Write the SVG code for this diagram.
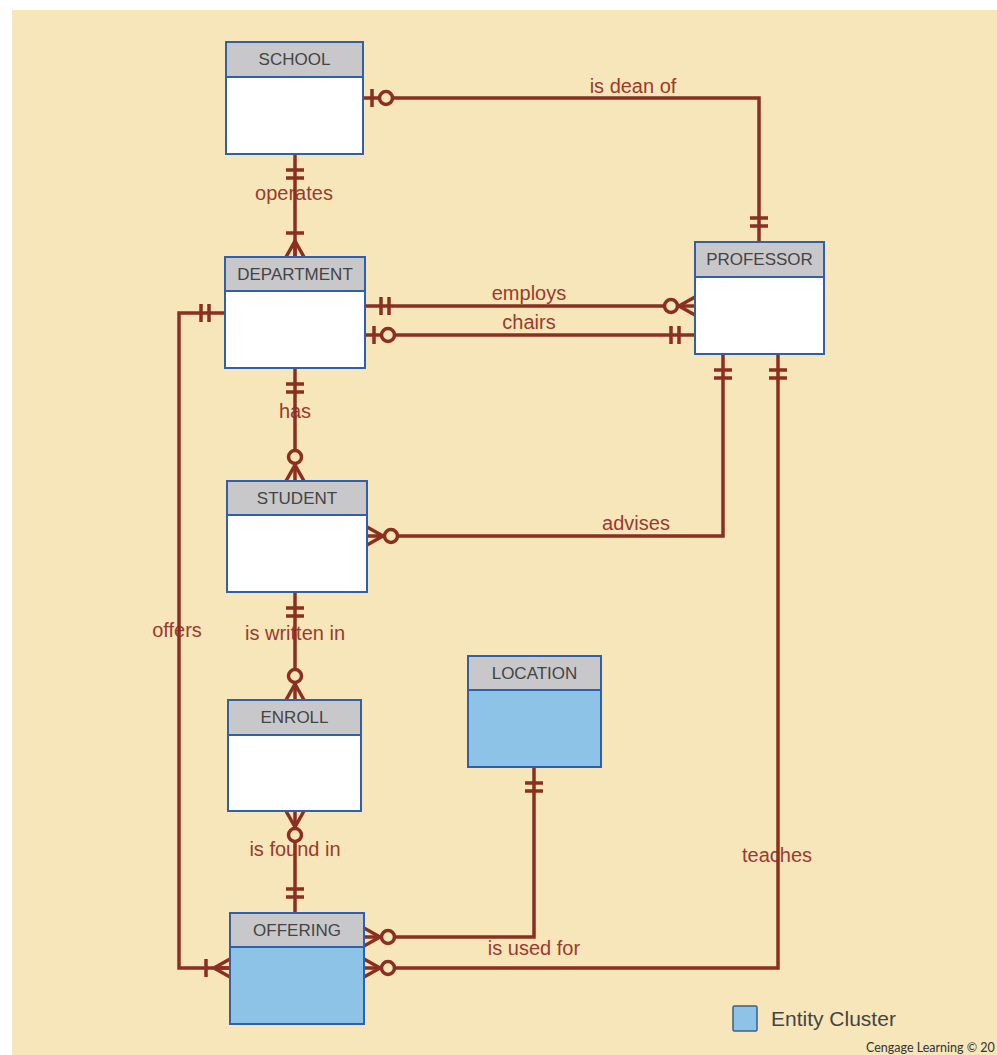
<svg xmlns="http://www.w3.org/2000/svg" xmlns:xlink="http://www.w3.org/1999/xlink" width="997" height="1055" viewBox="0 0 997 1055">
<style>
.hdr{fill:#c8c8ca;stroke:#2f60a9;stroke-width:2}
.body{fill:#ffffff;stroke:#2f60a9;stroke-width:2}
.cluster{fill:#8ec3e8;stroke:#2f60a9;stroke-width:2}
.ht{font-family:"Liberation Sans",Arial,sans-serif;font-size:17px;fill:#444;text-anchor:middle}
.lbl{font-family:"Liberation Sans",Arial,sans-serif;font-size:20px;fill:#9b3a2e;text-anchor:middle}
.ln{fill:none;stroke:#8a2f22;stroke-width:3.5}
.sym{fill:none;stroke:#8a2f22;stroke-width:3.5}
.circ{fill:#f6e6b9;stroke:#8a2f22;stroke-width:3.5}
</style>
<defs>
<g id="one"><path class="sym" d="M16,-9V9M24,-9V9"/></g>
<g id="zeroone"><path class="sym" d="M9,-9V9"/><circle class="circ" cx="23" cy="0" r="6.5"/></g>
<g id="onemany"><path class="sym" d="M0,-9L16,0L0,9M0,0H16M24,-9V9"/></g>
<g id="zeromany"><path class="sym" d="M0,-9L16,0L0,9"/><circle class="circ" cx="24" cy="0" r="6.5"/></g>
</defs>
<rect x="0" y="0" width="997" height="1055" fill="#ffffff"/>
<rect x="12" y="10" width="985" height="1045" fill="#f6e6b9"/>
<g id="labels">
<text class="lbl" x="633" y="93">is dean of</text>
<text class="lbl" x="294" y="200">operates</text>
<text class="lbl" x="529" y="300">employs</text>
<text class="lbl" x="529" y="329">chairs</text>
<text class="lbl" x="295" y="418">has</text>
<text class="lbl" x="636" y="530">advises</text>
<text class="lbl" x="295" y="640">is written in</text>
<text class="lbl" x="295" y="856">is found in</text>
<text class="lbl" x="777" y="862">teaches</text>
<text class="lbl" x="534" y="955">is used for</text>
<text class="lbl" x="177" y="637">offers</text>
</g>
<g id="connectors">
<path class="ln" d="M363,98H759V242"/>
<path class="ln" d="M295,154V257"/>
<path class="ln" d="M365,306H695"/>
<path class="ln" d="M365,335H695"/>
<path class="ln" d="M295,368V481"/>
<path class="ln" d="M367,536H723V354"/>
<path class="ln" d="M778,354V968H364"/>
<path class="ln" d="M295,592V700"/>
<path class="ln" d="M295,811V913"/>
<path class="ln" d="M534,767V937H364"/>
<path class="ln" d="M225,313H179V968H230"/>
<use xlink:href="#zeroone" transform="translate(363,98)"/>
<use xlink:href="#one" transform="translate(759,242) rotate(-90)"/>
<use xlink:href="#one" transform="translate(295,154) rotate(90)"/>
<use xlink:href="#onemany" transform="translate(295,257) rotate(-90)"/>
<use xlink:href="#one" transform="translate(365,306)"/>
<use xlink:href="#zeromany" transform="translate(695,306) rotate(180)"/>
<use xlink:href="#zeroone" transform="translate(365,335)"/>
<use xlink:href="#one" transform="translate(695,335) rotate(180)"/>
<use xlink:href="#one" transform="translate(295,368) rotate(90)"/>
<use xlink:href="#zeromany" transform="translate(295,481) rotate(-90)"/>
<use xlink:href="#zeromany" transform="translate(367,536)"/>
<use xlink:href="#one" transform="translate(723,354) rotate(90)"/>
<use xlink:href="#one" transform="translate(778,354) rotate(90)"/>
<use xlink:href="#zeromany" transform="translate(364,968)"/>
<use xlink:href="#one" transform="translate(295,592) rotate(90)"/>
<use xlink:href="#zeromany" transform="translate(295,700) rotate(-90)"/>
<use xlink:href="#zeromany" transform="translate(295,811) rotate(90)"/>
<use xlink:href="#one" transform="translate(295,913) rotate(-90)"/>
<use xlink:href="#one" transform="translate(534,767) rotate(90)"/>
<use xlink:href="#zeromany" transform="translate(364,937)"/>
<use xlink:href="#one" transform="translate(225,313) rotate(180)"/>
<use xlink:href="#onemany" transform="translate(230,968) rotate(180)"/>
</g>
<g id="school">
<rect class="body" x="226" y="42" width="137" height="112"/>
<rect class="hdr" x="226" y="42" width="137" height="35"/>
<text class="ht" x="294.5" y="65">SCHOOL</text>
</g>
<g id="department">
<rect class="body" x="225" y="257" width="140" height="111"/>
<rect class="hdr" x="225" y="257" width="140" height="34"/>
<text class="ht" x="295" y="280">DEPARTMENT</text>
</g>
<g id="professor">
<rect class="body" x="695" y="242" width="129" height="112"/>
<rect class="hdr" x="695" y="242" width="129" height="35"/>
<text class="ht" x="759.5" y="265">PROFESSOR</text>
</g>
<g id="student">
<rect class="body" x="227" y="481" width="140" height="111"/>
<rect class="hdr" x="227" y="481" width="140" height="34"/>
<text class="ht" x="297" y="504">STUDENT</text>
</g>
<g id="enroll">
<rect class="body" x="228" y="700" width="133" height="111"/>
<rect class="hdr" x="228" y="700" width="133" height="35"/>
<text class="ht" x="294.5" y="723">ENROLL</text>
</g>
<g id="location">
<rect class="cluster" x="468" y="656" width="133" height="111"/>
<rect class="hdr" x="468" y="656" width="133" height="34"/>
<text class="ht" x="534.5" y="679">LOCATION</text>
</g>
<g id="offering">
<rect class="cluster" x="230" y="913" width="134" height="111"/>
<rect class="hdr" x="230" y="913" width="134" height="34"/>
<text class="ht" x="297" y="936">OFFERING</text>
</g>
<g id="legend">
<rect x="733" y="1006" width="24" height="25" rx="1.5" fill="#8ec3e8" stroke="#3d5f86" stroke-width="1.5"/>
<text x="771" y="1026" font-family="'Liberation Sans',Arial,sans-serif" font-size="21" fill="#444">Entity Cluster</text>
</g>
<text x="866" y="1052" font-family="Lato,'Liberation Serif',serif" font-size="12.5" fill="#333">Cengage Learning © 20</text>
</svg>
